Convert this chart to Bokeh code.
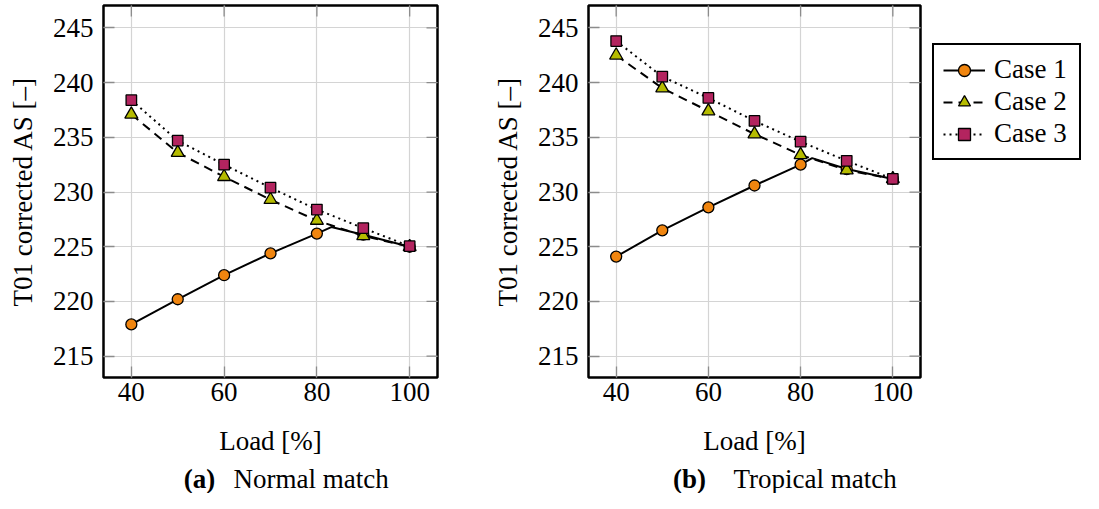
import math
from bokeh.plotting import figure
from bokeh.layouts import row, column
from bokeh.models import (Range1d, Label, Legend, LegendItem, FixedTicker,
                          InlineStyleSheet, GlobalInlineStyleSheet)
from bokeh.embed import file_html
from bokeh.resources import INLINE

# ---------------- data ----------------
load = [40, 50, 60, 70, 80, 90, 100]
x_ticks = [40, 60, 80, 100]
y_ticks = [215, 220, 225, 230, 235, 240, 245]
series_names = ["Case 1", "Case 2", "Case 3"]

# Case 1 line contains the crossover point where it meets Case 2
normal_case1_load = [40, 50, 60, 70, 80, 83.1, 90, 100]
normal_case1 = [217.9, 220.2, 222.4, 224.4, 226.2, 226.8, 226.1, 225.0]
normal_case2 = [237.1, 233.6, 231.4, 229.3, 227.4, 226.0, 225.0]
normal_case3 = [238.4, 234.7, 232.5, 230.4, 228.4, 226.7, 225.05]

tropical_case1_load = [40, 50, 60, 70, 80, 82.5, 90, 100]
tropical_case1 = [224.1, 226.5, 228.6, 230.6, 232.5, 233.1, 232.1, 231.2]
tropical_case2 = [242.5, 239.5, 237.4, 235.3, 233.4, 232.0, 231.2]
tropical_case3 = [243.8, 240.55, 238.6, 236.5, 234.6, 232.85, 231.2]

X_MIN, X_MAX = 34, 106
Y_MIN, Y_MAX = 213.05, 247.05

FONT = "Liberation Serif"
FS = "27px"
ORANGE = "#F0850F"
OLIVE = "#B5BB00"
MAGENTA = "#B3245F"
TICK = "#8c8c8c"
GRID = "#d4d4d4"
PANEL_H = 464

CSS = "text { font-family: 'Liberation Serif', serif !important; }"
STYLE = {"font-family": "'Liberation Serif', serif"}


def serif_sheets():
    return [InlineStyleSheet(css=CSS), GlobalInlineStyleSheet(css="svg " + CSS)]


STYLES = [
    dict(line=dict(line_color="black", line_width=2),
         mark=dict(marker="circle", size=11, fill_color=ORANGE, line_color="black", line_width=1.3)),
    dict(line=dict(line_color="black", line_width=2, line_dash="9 6"),
         mark=dict(marker="triangle", size=13, fill_color=OLIVE, line_color="black", line_width=1.3)),
    dict(line=dict(line_color="black", line_width=2, line_dash="2 4"),
         mark=dict(marker="square", size=10.5, fill_color=MAGENTA, line_color="black", line_width=1.3)),
]


def make_panel(width, left, right, c1x, c1, c2, c3):
    p = figure(width=width, height=PANEL_H,
               x_range=Range1d(X_MIN, X_MAX), y_range=Range1d(Y_MIN, Y_MAX),
               output_backend="svg", toolbar_location=None,
               min_border_left=left, min_border_right=right,
               min_border_top=5, min_border_bottom=87,
               styles=STYLE, stylesheets=serif_sheets())
    p.background_fill_color = "white"
    p.border_fill_color = "white"
    p.outline_line_color = "black"
    p.outline_line_width = 2.5
    p.outline_line_alpha = 1.0

    p.xaxis.ticker = FixedTicker(ticks=x_ticks)
    p.yaxis.ticker = FixedTicker(ticks=y_ticks)
    for ax in (p.xaxis[0], p.yaxis[0]):
        ax.axis_line_color = None
        ax.major_tick_in = 11
        ax.major_tick_out = 0
        ax.major_tick_line_color = TICK
        ax.major_tick_line_width = 1.3
        ax.minor_tick_line_color = None
        ax.major_label_text_font = FONT
        ax.major_label_text_font_size = FS
        ax.major_label_text_color = "black"
        ax.axis_label_text_font = FONT
        ax.axis_label_text_font_size = FS
        ax.axis_label_text_font_style = "normal"
        ax.axis_label_text_color = "black"
    p.xaxis.major_label_standoff = 5
    p.yaxis.major_label_standoff = 10
    p.xaxis.axis_label = "Load [%]"
    p.xaxis.axis_label_standoff = 22
    p.yaxis.axis_label = "T01 corrected AS [–]"
    p.yaxis.axis_label_standoff = 12

    p.xgrid.ticker = FixedTicker(ticks=x_ticks)
    p.ygrid.ticker = FixedTicker(ticks=y_ticks)
    p.grid.grid_line_color = GRID
    p.grid.grid_line_width = 1.2

    # inner ticks on top and right edges (mirrored axes)
    p.scatter(x_ticks, [Y_MAX] * len(x_ticks), marker="dash", angle=math.pi / 2,
              size=22, line_color=TICK, line_width=1.3)
    p.scatter([X_MAX] * len(y_ticks), y_ticks, marker="dash",
              size=22, line_color=TICK, line_width=1.3)

    c1_marks = [v for x, v in zip(c1x, c1) if x in load]
    p.line(c1x, c1, **STYLES[0]["line"])
    p.scatter(load, c1_marks, **STYLES[0]["mark"])
    p.line(load, c2, **STYLES[1]["line"])
    p.scatter(load, c2, **STYLES[1]["mark"])
    p.line(load, c3, **STYLES[2]["line"])
    p.scatter(load, c3, **STYLES[2]["mark"])
    return p


p1 = make_panel(470, 103, 33, normal_case1_load, normal_case1, normal_case2, normal_case3)
p2 = make_panel(455, 118, 5, tropical_case1_load, tropical_case1, tropical_case2, tropical_case3)

# legend panel (legend-only renderers holding no visible data)
legfig = figure(width=158, height=PANEL_H, x_range=Range1d(0, 1), y_range=Range1d(0, 1),
                output_backend="svg", toolbar_location=None,
                x_axis_type=None, y_axis_type=None, min_border=0,
                styles=STYLE, stylesheets=serif_sheets())
legfig.outline_line_color = None
legfig.grid.visible = False
legfig.background_fill_color = "white"
legfig.border_fill_color = "white"
items = []
for name, st in zip(series_names, STYLES):
    lr = legfig.line([math.nan], [math.nan], **st["line"])
    mr = legfig.scatter([math.nan], [math.nan], **st["mark"])
    items.append(LegendItem(label=name, renderers=[lr, mr]))
legend = Legend(
    items=items,
    location=(7, PANEL_H - 247),
    orientation="vertical",
    padding=9, spacing=1, margin=0,
    glyph_width=42, glyph_height=30, label_height=30, label_width=76,
    label_standoff=9,
    label_text_font=FONT, label_text_font_size=FS, label_text_color="black",
    label_text_baseline="middle",
    border_line_color="black", border_line_width=2, border_line_alpha=1.0,
    background_fill_color="white", background_fill_alpha=1.0,
)
legfig.add_layout(legend)

# caption strip below the two panels
CAP_H = 493 - PANEL_H
cap = figure(width=1083, height=CAP_H, x_range=Range1d(0, 1083), y_range=Range1d(0, CAP_H),
             output_backend="svg", toolbar_location=None,
             x_axis_type=None, y_axis_type=None, min_border=0,
             styles=STYLE, stylesheets=serif_sheets())
cap.outline_line_color = None
cap.grid.visible = False
cap.background_fill_color = "white"
cap.border_fill_color = "white"
captions = [("(a)", "Normal match", 199, 233), ("(b)", "Tropical match", 689, 733)]
for tag, text, xt, xc in captions:
    cap.add_layout(Label(x=xt, y=CAP_H / 2, x_units="screen", y_units="screen", text=tag,
                         text_align="center", text_baseline="middle",
                         text_font=FONT, text_font_size=FS, text_font_style="bold",
                         text_color="black"))
    cap.add_layout(Label(x=xc, y=CAP_H / 2, x_units="screen", y_units="screen", text=text,
                         text_align="left", text_baseline="middle",
                         text_font=FONT, text_font_size=FS, text_color="black"))

layout = column(row(p1, p2, legfig, styles=STYLE), cap, styles=STYLE)
open("out.html", "w").write(file_html(layout, INLINE))
